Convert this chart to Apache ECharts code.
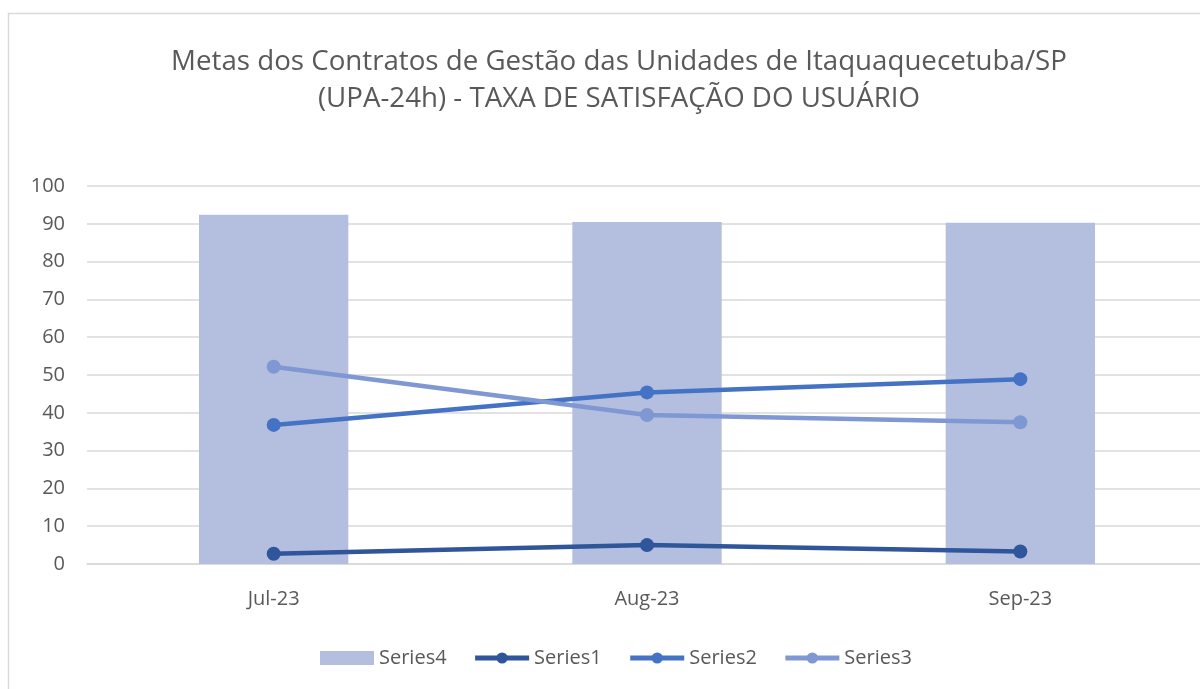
<!DOCTYPE html>
<html>
<head>
<meta charset="utf-8">
<script src="https://cdn.jsdelivr.net/npm/echarts@6/dist/echarts.min.js"></script>
<style>
  html, body { margin: 0; padding: 0; background: #fff; overflow: hidden; }
  #chart { width: 1212px; height: 689px; }
</style>
</head>
<body>
<div id="chart"></div>
<script>
// Monthly periods
const months = ['Jul-23', 'Aug-23', 'Sep-23'];
// Satisfaction rate (bars)
const series4 = [92.4, 90.5, 90.3];
// Line series
const series1 = [2.7, 5.0, 3.3];
const series2 = [36.8, 45.4, 48.9];
const series3 = [52.2, 39.4, 37.5];
// Value axis ticks
const yTicks = [0, 10, 20, 30, 40, 50, 60, 70, 80, 90, 100];

const FONT = 'Open Sans, Noto Sans, sans-serif';
const TEXT = '#595959';

const chart = echarts.init(document.getElementById('chart'), null, { renderer: 'canvas' });

function lineSeries(name, data, color) {
  return {
    name: name,
    type: 'line',
    data: data,
    symbol: 'circle',
    symbolSize: 14,
    lineStyle: { width: 4.5, color: color },
    itemStyle: { color: color },
    z: 3
  };
}

chart.setOption({
  animation: false,
  backgroundColor: '#fff',
  title: {
    text: 'Metas dos Contratos de Gestão das Unidades de Itaquaquecetuba/SP\n(UPA-24h) - TAXA DE SATISFAÇÃO DO USUÁRIO',
    left: 614,
    top: 39,
    textAlign: 'center',
    textStyle: {
      fontFamily: FONT,
      fontSize: 27.7,
      fontWeight: 'normal',
      color: TEXT,
      lineHeight: 37
    }
  },
  graphic: [{
    type: 'rect',
    shape: { x: 8.5, y: 13.5, width: 1250, height: 720 },
    style: { fill: 'none', stroke: '#d9d9d9', lineWidth: 1.5 },
    silent: true,
    z: -1
  }],
  legend: {
    bottom: 16,
    left: 315,
    itemGap: 26,
    itemWidth: 54,
    itemHeight: 14,
    textStyle: { fontFamily: FONT, fontSize: 20, color: TEXT },
    data: [
      { name: 'Series4', icon: 'rect' },
      { name: 'Series1', lineStyle: { width: 5 } },
      { name: 'Series2', lineStyle: { width: 5 } },
      { name: 'Series3', lineStyle: { width: 5 } }
    ]
  },
  grid: { left: 87, top: 186, width: 1120, height: 378 },
  xAxis: {
    type: 'category',
    data: months,
    axisTick: { show: false },
    axisLine: { lineStyle: { color: '#d9d9d9', width: 1.5 } },
    axisLabel: { fontFamily: FONT, fontSize: 20, color: TEXT, margin: 25 }
  },
  yAxis: {
    type: 'value',
    min: yTicks[0],
    max: yTicks[yTicks.length - 1],
    interval: yTicks[1] - yTicks[0],
    axisLine: { show: false },
    axisTick: { show: false },
    splitLine: { lineStyle: { color: '#d9d9d9', width: 1.5 } },
    axisLabel: { fontFamily: FONT, fontSize: 20, color: TEXT, margin: 22 }
  },
  series: [
    {
      name: 'Series4',
      type: 'bar',
      data: series4,
      barWidth: '40%',
      itemStyle: { color: '#b4bfdf' },
      z: 2
    },
    lineSeries('Series1', series1, '#2f559a'),
    lineSeries('Series2', series2, '#4472c4'),
    lineSeries('Series3', series3, '#7f97d3')
  ]
});
</script>
</body>
</html>
